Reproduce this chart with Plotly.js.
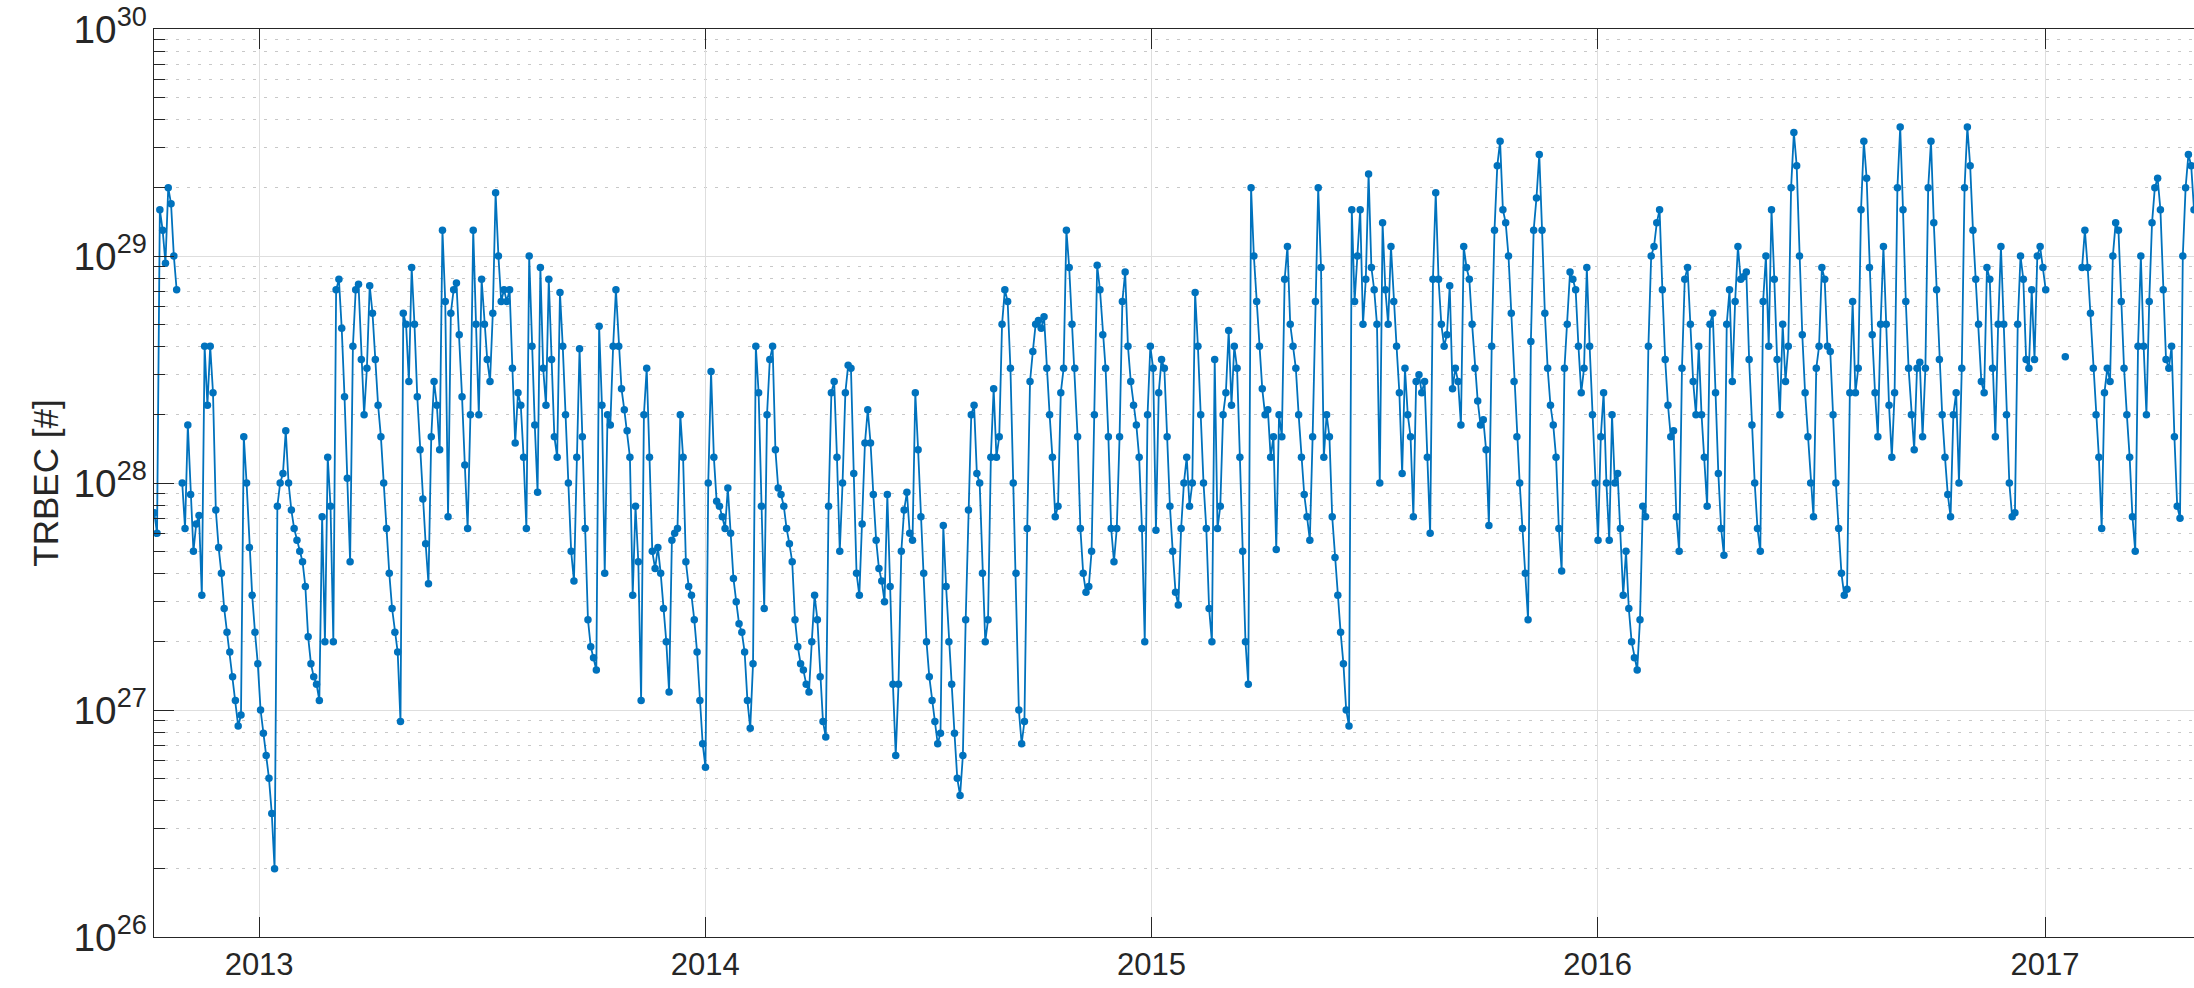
<!DOCTYPE html>
<html>
<head>
<meta charset="utf-8">
<script src="https://cdn.plot.ly/plotly-3.0.1.min.js"></script>
<style>
  html, body { margin: 0; padding: 0; background: #fff; }
  #chart { width: 2194px; height: 988px; }
</style>
</head>
<body>
<div id="chart"></div>
<script>
// TRBEC series, one value every ~2.29 days from 2012-10-07 05:00 (null = no data)
const START = Date.UTC(2012, 9, 7, 5);
const STEP_DAYS = 2.289;

const trbec2012 = [
  7.4e27, 6.0e27, 1.6e29, 1.3e29, 9.3e28, 2.0e29, 1.7e29, 1.0e29, 7.1e28, null,
  1.0e28, 6.3e27, 1.8e28, 8.9e27, 5.0e27, 6.6e27, 7.2e27, 3.2e27, 4.0e28, 2.2e28,
  4.0e28, 2.5e28, 7.6e27, 5.2e27, 4.0e27, 2.8e27, 2.2e27, 1.8e27, 1.4e27, 1.1e27,
  8.5e26, 9.5e26, 1.6e28, 1.0e28, 5.2e27, 3.2e27, 2.2e27, 1.6e27
];
const trbec2013 = [
  1.0e27, 7.9e26, 6.3e26, 5.0e26, 3.5e26, 2.0e26, 7.9e27, 1.0e28, 1.1e28, 1.7e28,
  1.0e28, 7.6e27, 6.3e27, 5.6e27, 5.0e27, 4.5e27, 3.5e27, 2.1e27, 1.6e27, 1.4e27,
  1.3e27, 1.1e27, 7.1e27, 2.0e27, 1.3e28, 7.9e27, 2.0e27, 7.1e28, 7.9e28, 4.8e28,
  2.4e28, 1.05e28, 4.5e27, 4.0e28, 7.1e28, 7.5e28, 3.5e28, 2.0e28, 3.2e28, 7.4e28,
  5.6e28, 3.5e28, 2.2e28, 1.6e28, 1.0e28, 6.3e27, 4.0e27, 2.8e27, 2.2e27, 1.8e27,
  8.9e26, 5.6e28, 5.0e28, 2.8e28, 8.9e28, 5.0e28, 2.4e28, 1.4e28, 8.5e27, 5.4e27,
  3.6e27, 1.6e28, 2.8e28, 2.2e28, 1.4e28, 1.3e29, 6.3e28, 7.1e27, 5.6e28, 7.1e28,
  7.6e28, 4.5e28, 2.4e28, 1.2e28, 6.3e27, 2.0e28, 1.3e29, 5.0e28, 2.0e28, 7.9e28,
  5.0e28, 3.5e28, 2.8e28, 5.6e28, 1.9e29, 1.0e29, 6.3e28, 7.1e28, 6.3e28, 7.1e28,
  3.2e28, 1.5e28, 2.5e28, 2.2e28, 1.3e28, 6.3e27, 1.0e29, 4.0e28, 1.8e28, 9.1e27,
  8.9e28, 3.2e28, 2.2e28, 7.9e28, 3.5e28, 1.6e28, 1.3e28, 6.9e28, 4.0e28, 2.0e28,
  1.0e28, 5.0e27, 3.7e27, 1.3e28, 3.9e28, 1.6e28, 6.3e27, 2.5e27, 1.9e27, 1.7e27,
  1.5e27, 4.9e28, 2.2e28, 4.0e27, 2.0e28, 1.8e28, 4.0e28, 7.1e28, 4.0e28, 2.6e28,
  2.1e28, 1.7e28, 1.3e28, 3.2e27, 7.9e27, 4.5e27, 1.1e27, 2.0e28, 3.2e28, 1.3e28,
  5.0e27, 4.2e27, 5.2e27, 4.0e27, 2.8e27, 2.0e27, 1.2e27, 5.6e27, 6.0e27, 6.3e27,
  2.0e28, 1.3e28, 4.5e27, 3.5e27, 3.2e27, 2.5e27, 1.8e27, 1.1e27, 7.1e26, 5.6e26
];
const trbec2014 = [
  1.0e28, 3.1e28, 1.3e28, 8.3e27, 7.9e27, 7.1e27, 6.3e27, 9.5e27, 6.0e27, 3.8e27,
  3.0e27, 2.4e27, 2.2e27, 1.8e27, 1.1e27, 8.3e26, 1.6e27, 4.0e28, 2.5e28, 7.9e27,
  2.8e27, 2.0e28, 3.5e28, 4.0e28, 1.4e28, 9.5e27, 8.9e27, 7.9e27, 6.3e27, 5.4e27,
  4.5e27, 2.5e27, 1.9e27, 1.6e27, 1.5e27, 1.3e27, 1.2e27, 2.0e27, 3.2e27, 2.5e27,
  1.4e27, 8.9e26, 7.6e26, 7.9e27, 2.5e28, 2.8e28, 1.3e28, 5.0e27, 1.0e28, 2.5e28,
  3.3e28, 3.2e28, 1.1e28, 4.0e27, 3.2e27, 6.6e27, 1.5e28, 2.1e28, 1.5e28, 8.9e27,
  5.6e27, 4.2e27, 3.7e27, 3.0e27, 8.9e27, 3.5e27, 1.3e27, 6.3e26, 1.3e27, 5.0e27,
  7.6e27, 9.1e27, 6.0e27, 5.6e27, 2.5e28, 1.4e28, 7.1e27, 4.0e27, 2.0e27, 1.4e27,
  1.1e27, 8.9e26, 7.1e26, 7.9e26, 6.5e27, 3.5e27, 2.0e27, 1.3e27, 7.9e26, 5.0e26,
  4.2e26, 6.3e26, 2.5e27, 7.6e27, 2.0e28, 2.2e28, 1.1e28, 1.0e28, 4.0e27, 2.0e27,
  2.5e27, 1.3e28, 2.6e28, 1.3e28, 1.6e28, 5.0e28, 7.1e28, 6.3e28, 3.2e28, 1.0e28,
  4.0e27, 1.0e27, 7.1e26, 8.9e26, 6.3e27, 2.8e28, 3.8e28, 5.0e28, 5.2e28, 4.8e28,
  5.4e28, 3.2e28, 2.0e28, 1.3e28, 7.1e27, 7.9e27, 2.5e28, 3.2e28, 1.3e29, 8.9e28,
  5.0e28, 3.2e28, 1.6e28, 6.3e27, 4.0e27, 3.3e27, 3.5e27, 5.0e27, 2.0e28, 9.1e28,
  7.1e28, 4.5e28, 3.2e28, 1.6e28, 6.3e27, 4.5e27, 6.3e27, 1.6e28, 6.3e28, 8.5e28,
  4.0e28, 2.8e28, 2.2e28, 1.8e28, 1.3e28, 6.3e27, 2.0e27, 2.0e28, 4.0e28
];
const trbec2015 = [
  3.2e28, 6.2e27, 2.5e28, 3.5e28, 3.2e28, 1.6e28, 7.9e27, 5.0e27, 3.3e27, 2.9e27,
  6.3e27, 1.0e28, 1.3e28, 7.9e27, 1.0e28, 6.9e28, 4.0e28, 2.0e28, 1.0e28, 6.3e27,
  2.8e27, 2.0e27, 3.5e28, 6.3e27, 7.9e27, 2.0e28, 2.5e28, 4.7e28, 2.2e28, 4.0e28,
  3.2e28, 1.3e28, 5.0e27, 2.0e27, 1.3e27, 2.0e29, 1.0e29, 6.3e28, 4.0e28, 2.6e28,
  2.0e28, 2.1e28, 1.3e28, 1.6e28, 5.1e27, 2.0e28, 1.6e28, 7.9e28, 1.1e29, 5.0e28,
  4.0e28, 3.2e28, 2.0e28, 1.3e28, 8.9e27, 7.1e27, 5.6e27, 1.6e28, 6.3e28, 2.0e29,
  8.9e28, 1.3e28, 2.0e28, 1.6e28, 7.1e27, 4.7e27, 3.2e27, 2.2e27, 1.6e27, 1.0e27,
  8.5e26, 1.6e29, 6.3e28, 1.0e29, 1.6e29, 5.0e28, 7.9e28, 2.3e29, 8.9e28, 7.1e28,
  5.0e28, 1.0e28, 1.4e29, 7.1e28, 5.0e28, 1.1e29, 6.3e28, 4.0e28, 2.5e28, 1.1e28,
  3.2e28, 2.0e28, 1.6e28, 7.1e27, 2.8e28, 3.0e28, 2.5e28, 2.8e28, 1.3e28, 6.0e27,
  7.9e28, 1.9e29, 7.9e28, 5.0e28, 4.0e28, 4.5e28, 7.4e28, 2.6e28, 3.2e28, 2.8e28,
  1.8e28, 1.1e29, 8.9e28, 7.9e28, 5.0e28, 3.2e28, 2.3e28, 1.8e28, 1.9e28, 1.4e28,
  6.5e27, 4.0e28, 1.3e29, 2.5e29, 3.2e29, 1.6e29, 1.4e29, 1.0e29, 5.6e28, 2.8e28,
  1.6e28, 1.0e28, 6.3e27, 4.0e27, 2.5e27, 4.2e28, 1.3e29, 1.8e29, 2.8e29, 1.3e29,
  5.6e28, 3.2e28, 2.2e28, 1.8e28, 1.3e28, 6.3e27, 4.1e27, 3.2e28, 5.0e28, 8.5e28,
  7.9e28, 7.1e28, 4.0e28, 2.5e28, 3.2e28, 8.9e28, 4.0e28, 2.0e28, 1.0e28, 5.6e27
];
const trbec2016 = [
  1.6e28, 2.5e28, 1.0e28, 5.6e27, 2.0e28, 1.0e28, 1.1e28, 6.3e27, 3.2e27, 5.0e27,
  2.8e27, 2.0e27, 1.7e27, 1.5e27, 2.5e27, 7.9e27, 7.1e27, 4.0e28, 1.0e29, 1.1e29,
  1.4e29, 1.6e29, 7.1e28, 3.5e28, 2.2e28, 1.6e28, 1.7e28, 7.1e27, 5.0e27, 3.2e28,
  7.9e28, 8.9e28, 5.0e28, 2.8e28, 2.0e28, 4.0e28, 2.0e28, 1.3e28, 7.9e27, 5.0e28,
  5.6e28, 2.5e28, 1.1e28, 6.3e27, 4.8e27, 5.0e28, 7.1e28, 2.8e28, 6.3e28, 1.1e29,
  7.9e28, 8.1e28, 8.5e28, 3.5e28, 1.8e28, 1.0e28, 6.3e27, 5.0e27, 6.3e28, 1.0e29,
  4.0e28, 1.6e29, 7.9e28, 3.5e28, 2.0e28, 5.0e28, 2.8e28, 4.0e28, 2.0e29, 3.5e29,
  2.5e29, 1.0e29, 4.5e28, 2.5e28, 1.6e28, 1.0e28, 7.1e27, 3.2e28, 4.0e28, 8.9e28,
  7.9e28, 4.0e28, 3.8e28, 2.0e28, 1.0e28, 6.3e27, 4.0e27, 3.2e27, 3.4e27, 2.5e28,
  6.3e28, 2.5e28, 3.2e28, 1.6e29, 3.2e29, 2.2e29, 8.9e28, 4.5e28, 2.5e28, 1.6e28,
  5.0e28, 1.1e29, 5.0e28, 2.2e28, 1.3e28, 2.5e28, 2.0e29, 3.7e29, 1.6e29, 6.3e28,
  3.2e28, 2.0e28, 1.4e28, 3.2e28, 3.4e28, 1.6e28, 3.2e28, 2.0e29, 3.2e29, 1.4e29,
  7.1e28, 3.5e28, 2.0e28, 1.3e28, 8.9e27, 7.1e27, 2.0e28, 2.5e28, 1.0e28, 3.2e28,
  2.0e29, 3.7e29, 2.5e29, 1.3e29, 7.9e28, 5.0e28, 2.8e28, 2.5e28, 8.9e28, 7.9e28,
  3.2e28, 1.6e28, 5.0e28, 1.1e29, 5.0e28, 2.0e28, 1.0e28, 7.1e27, 7.4e27, 5.0e28,
  1.0e29, 7.9e28, 3.5e28, 3.2e28, 7.1e28, 3.5e28, 1.0e29, 1.1e29, 8.9e28
];
const trbec2017 = [
  7.1e28, null, null, null, null, null, null, 3.6e28, null, null,
  null, null, null, 8.9e28, 1.3e29, 8.9e28, 5.6e28, 3.2e28, 2.0e28, 1.3e28,
  6.3e27, 2.5e28, 3.2e28, 2.8e28, 1.0e29, 1.4e29, 1.3e29, 6.3e28, 3.2e28, 2.0e28,
  1.3e28, 7.1e27, 5.0e27, 4.0e28, 1.0e29, 4.0e28, 2.0e28, 6.3e28, 1.4e29, 2.0e29,
  2.2e29, 1.6e29, 7.1e28, 3.5e28, 3.2e28, 4.0e28, 1.6e28, 7.9e27, 7.0e27, 1.0e29,
  2.0e29, 2.8e29, 2.5e29, 1.6e29
];

const yearTicks = ['2013', '2014', '2015', '2016', '2017'];

const trbec = [].concat(trbec2012, trbec2013, trbec2014, trbec2015, trbec2016, trbec2017);

function fmt(ms) {
  return new Date(ms).toISOString().slice(0, 19).replace('T', ' ');
}
const times = trbec.map((v, i) => fmt(START + i * STEP_DAYS * 86400000));

const axisColor = '#262626';
const font = { family: 'Liberation Sans, Arial, Helvetica, sans-serif', size: 31, color: axisColor };

var trace = {
  x: times,
  y: trbec,
  type: 'scatter',
  mode: 'lines+markers',
  connectgaps: false,
  line: { color: '#0072BD', width: 1.8 },
  marker: { color: '#0072BD', size: 7.5 },
  hoverinfo: 'x+y'
};

var layout = {
  width: 2194,
  height: 988,
  margin: { l: 154, r: 0, t: 29, b: 51 },
  paper_bgcolor: '#fff',
  plot_bgcolor: '#fff',
  showlegend: false,
  font: font,
  xaxis: {
    type: 'date',
    range: ['2012-10-07 00:00', times[times.length - 1]],
    tickmode: 'array',
    tickvals: yearTicks.map(y => y + '-01-01'),
    ticktext: yearTicks,
    ticks: 'inside',
    ticklen: 20,
    tickwidth: 1,
    tickcolor: axisColor,
    showline: true,
    linecolor: axisColor,
    linewidth: 1,
    mirror: 'ticks',
    showgrid: true,
    gridcolor: '#dedede',
    gridwidth: 1,
    zeroline: false,
    tickfont: font
  },
  yaxis: {
    type: 'log',
    range: [26, 30],
    dtick: 1,
    exponentformat: 'power',
    ticks: 'inside',
    ticklen: 20,
    tickwidth: 1,
    tickcolor: axisColor,
    showline: true,
    linecolor: axisColor,
    linewidth: 1,
    mirror: false,
    showgrid: true,
    gridcolor: '#dedede',
    gridwidth: 1,
    zeroline: false,
    tickfont: font,
    minor: {
      dtick: 'D1',
      ticks: 'inside',
      ticklen: 11,
      tickcolor: axisColor,
      showgrid: true,
      gridcolor: '#c8c8c8',
      griddash: '3px,8px',
      gridwidth: 1
    },
    title: { text: 'TRBEC [#]', font: { family: font.family, size: 35, color: axisColor }, standoff: 4 }
  }
};

Plotly.newPlot('chart', [trace], layout, { displayModeBar: false, staticPlot: true });
</script>
</body>
</html>
